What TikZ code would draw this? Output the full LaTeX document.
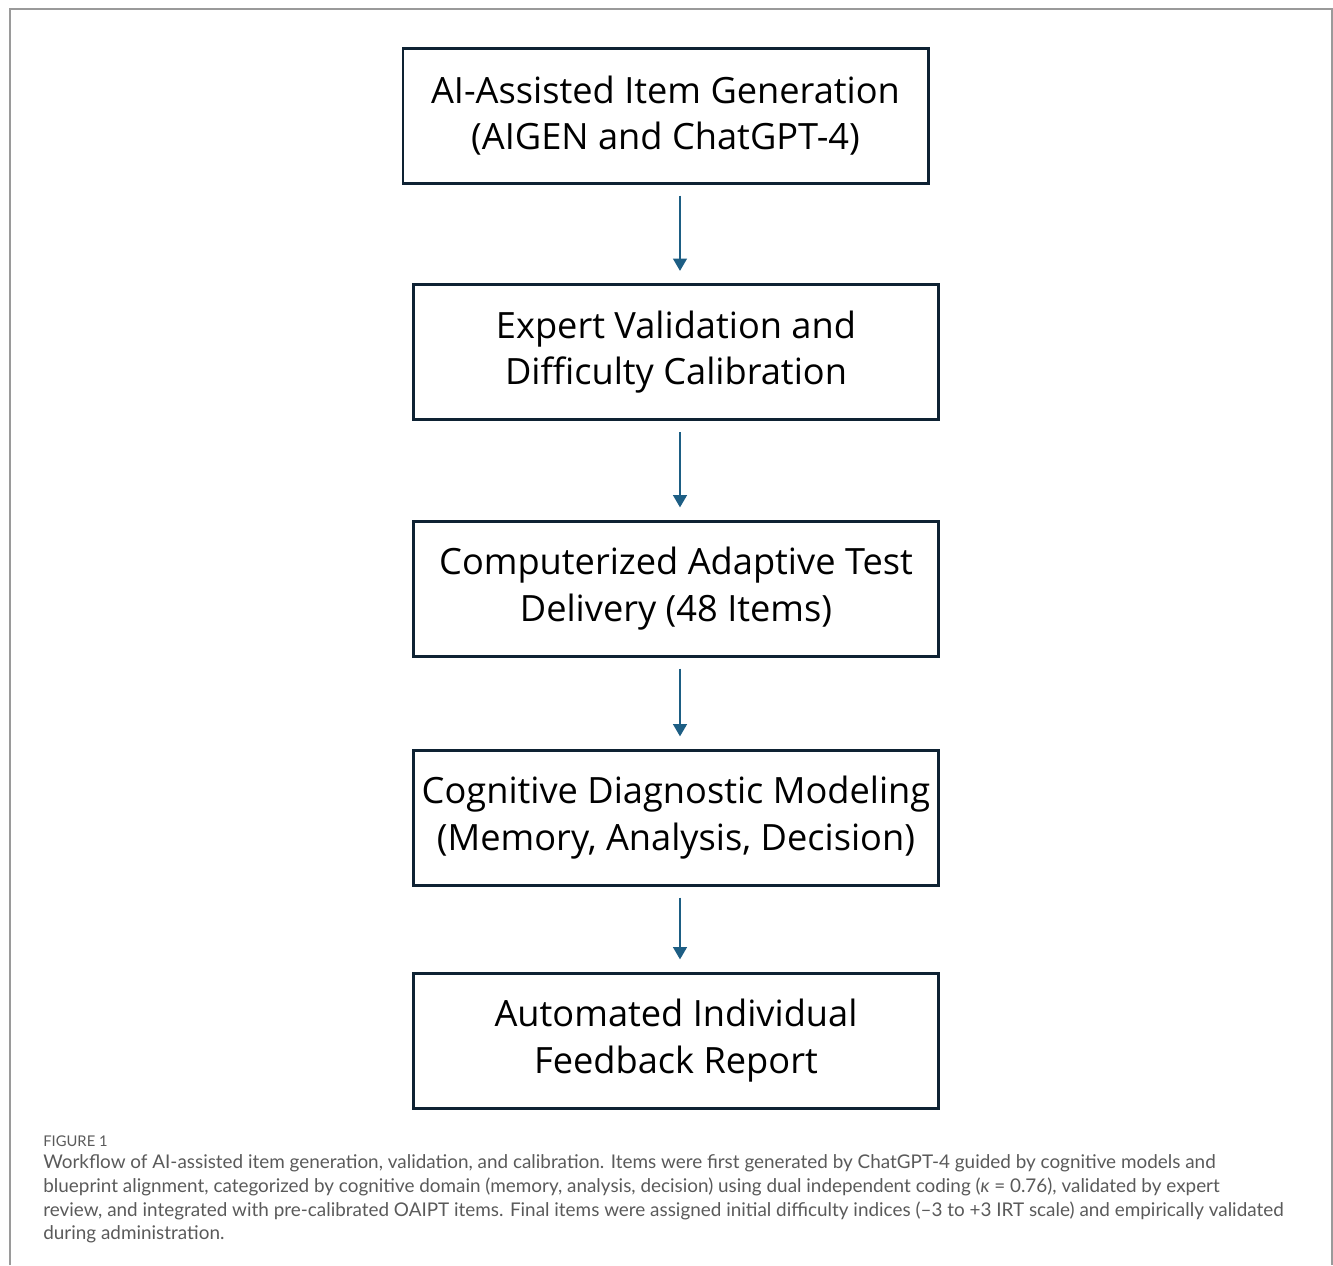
\documentclass[tikz,border=0pt]{standalone}
\usepackage{fontspec}
\setmainfont{Open Sans}
\newfontfamily\capfont[Ligatures=TeX]{Lato}
\usetikzlibrary{arrows.meta}
\definecolor{boxline}{HTML}{0E2233}
\definecolor{flowblue}{HTML}{1D5E84}
\definecolor{framegray}{HTML}{9A9A9A}
\definecolor{captext}{HTML}{5A5A5A}
\begin{document}
\begin{tikzpicture}[
  stage/.style={draw=boxline, line width=1.7pt, minimum width=10.5cm, minimum height=2.7cm,
    align=center, font=\fontsize{20.6}{26.4}\selectfont, inner sep=0pt},
  flow/.style={draw=flowblue, line width=1.7pt, -{Triangle[width=0.27cm,length=0.25cm]},
    shorten <=0.22cm, shorten >=0.24cm}
]
\useasboundingbox (0,0) rectangle (26.66,-25.3);
\draw[framegray, line width=0.8pt] (0.2,-25.3) -- (0.2,-0.18) -- (26.64,-0.18) -- (26.64,-25.3);

\node[stage] (gen) at (13.31,-2.31) {AI-Assisted Item Generation\\(AIGEN and ChatGPT-4)};
\node[stage] (val) at (13.52,-7.04) {Expert Validation and\\Difficulty Calibration};
\node[stage] (cat) at (13.52,-11.77) {Computerized Adaptive Test\\Delivery (48 Items)};
\node[stage] (cdm) at (13.52,-16.35) {Cognitive Diagnostic Modeling\\(Memory, Analysis, Decision)};
\node[stage] (rep) at (13.52,-20.81) {Automated Individual\\Feedback Report};

\coordinate (ax) at (13.6,0);
\draw[flow] (gen.south -| ax) -- (val.north -| ax);
\draw[flow] (val.south -| ax) -- (cat.north -| ax);
\draw[flow] (cat.south -| ax) -- (cdm.north -| ax);
\draw[flow] (cdm.south -| ax) -- (rep.north -| ax);

% caption
\node[anchor=west, text=captext, inner sep=0pt, font=\capfont\fontsize{8.4}{10}\selectfont] (fig) at (0.86,-22.82) {FIGURE 1};
\node[anchor=north west, text=captext, align=left, inner sep=0pt,
  font=\capfont\fontsize{10.75}{13.6}\selectfont] (cap) at (0.86,-23.08)
  {Workflow of AI-assisted item generation, validation, and calibration. Items were first generated by ChatGPT-4 guided by cognitive models and\\
   blueprint alignment, categorized by cognitive domain (memory, analysis, decision) using dual independent coding ({\itshape κ} = 0.76), validated by expert\\
   review, and integrated with pre-calibrated OAIPT items. Final items were assigned initial difficulty indices (–3 to +3 IRT scale) and empirically validated\\
   during administration.};
\end{tikzpicture}
\end{document}
